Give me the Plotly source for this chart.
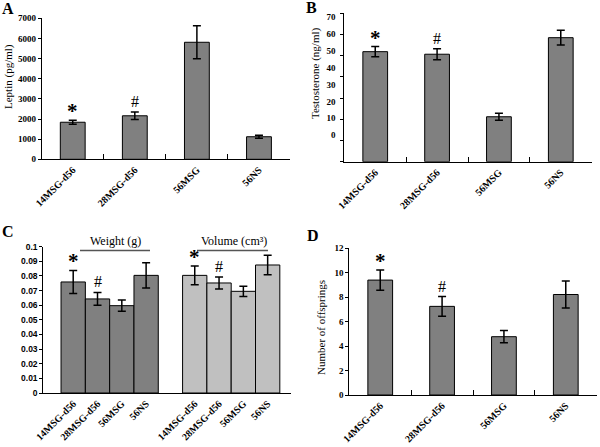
import plotly.graph_objects as go

# ---------------- data ----------------
groups = ["14MSG-d56", "28MSG-d56", "56MSG", "56NS"]
marks = ["*", "#", "", ""]

leptin = [1840, 2160, 5810, 1120]
leptin_err = [100, 190, 820, 70]

testosterone = [51.9, 50.7, 21.2, 58.5]
testosterone_err = [2.4, 2.6, 1.7, 3.5]
testosterone_tick_labels = [0, 10, 20, 30, 40, 50, 60, 70]

weight = [0.0759, 0.0643, 0.0597, 0.0804]
weight_err = [0.0079, 0.0044, 0.0038, 0.0087]
volume = [0.0804, 0.0752, 0.0695, 0.0875]
volume_err = [0.0064, 0.0041, 0.0035, 0.0066]
c_titles = ["Weight (g)", "Volume (cm³)"]
c_ticks = [0, 0.01, 0.02, 0.03, 0.04, 0.05, 0.06, 0.07, 0.08, 0.09, 0.1]

offspring = [9.4, 7.25, 4.77, 8.22]
offspring_err = [0.83, 0.8, 0.5, 1.1]

# ---------------- helpers ----------------
W, H = 600, 447
SERIF = "Liberation Serif, Times New Roman, serif"
SANS = "Liberation Sans, Arial, sans-serif"
DARK = "#808080"
LIGHT = "#c0c0c0"


def xdom(a, b):
    return [a / W, b / W]


def ydom(top, bottom):
    return [1 - bottom / H, 1 - top / H]


err_style = dict(type="data", color="black", thickness=1.5, width=4)

fig = go.Figure()


def add_bar(x, y, err, color, xa, ya, width):
    fig.add_trace(go.Bar(
        x=x, y=y, width=width,
        error_y=dict(array=err, **err_style),
        marker=dict(color=color, line=dict(color="black", width=1)),
        xaxis=xa, yaxis=ya, showlegend=False, hoverinfo="skip",
    ))


add_bar(groups, leptin, leptin_err, DARK, "x", "y", 0.4)
add_bar(groups, testosterone, testosterone_err, DARK, "x2", "y2", 0.4)
add_bar(groups, offspring, offspring_err, DARK, "x4", "y4", 0.4)

w_ids = ["W " + g for g in groups]
v_ids = ["V " + g for g in groups]
c_order = w_ids + ["gap"] + v_ids
add_bar(w_ids, weight, weight_err, DARK, "x3", "y3", 1)
add_bar(v_ids, volume, volume_err, LIGHT, "x3", "y3", 1)
# keep the empty slot between the two groups
fig.add_trace(go.Scatter(x=["gap"], y=[None], xaxis="x3", yaxis="y3",
                         showlegend=False, hoverinfo="skip", mode="markers"))
# carrier for the testosterone label axis
fig.add_trace(go.Scatter(x=[groups[0]], y=[None], xaxis="x2", yaxis="y5",
                         showlegend=False, hoverinfo="skip", mode="markers"))

XFONT = dict(family=SERIF, size=10, color="black", weight="bold")
YFONT = dict(family=SERIF, size=9, color="black", weight="bold")
xcat = dict(type="category", range=[-0.5, 3.5], showline=True, linecolor="black",
            linewidth=1, ticks="inside", tickson="boundaries", ticklen=5,
            tickcolor="black", tickangle=-45, showgrid=False, zeroline=False,
            automargin=False, tickfont=XFONT)
ybase = dict(showline=True, linecolor="black", linewidth=1, ticks="outside",
             ticklen=3, tickcolor="black", showgrid=False, zeroline=False,
             automargin=False)

fig.update_layout(
    template="none",
    width=W, height=H, margin=dict(l=0, r=0, t=0, b=0, autoexpand=False),
    paper_bgcolor="white", plot_bgcolor="white", showlegend=False,
    font=dict(family=SERIF, color="black"),
    xaxis=dict(domain=xdom(41.7, 290), anchor="y", **xcat),
    yaxis=dict(domain=ydom(18.3, 159.3), anchor="x", range=[0, 7000], dtick=1000,
               tickfont=YFONT, **ybase),
    xaxis2=dict(domain=xdom(344.3, 591.7), anchor="y2", **xcat),
    yaxis2=dict(domain=ydom(13.3, 161.7), anchor="x2", range=[0, 70], dtick=10,
                showticklabels=False, **ybase),
    yaxis5=dict(overlaying="y2", anchor="x2", side="left", range=[-15.9, 72.4],
                tickvals=testosterone_tick_labels,
                ticktext=[str(v) for v in testosterone_tick_labels],
                showline=False, showgrid=False, zeroline=False, automargin=False,
                ticks="outside", ticklen=6, tickcolor="rgba(0,0,0,0)",
                tickfont=YFONT),
    xaxis3=dict(domain=xdom(43.3, 291), anchor="y3", type="category",
                categoryorder="array", categoryarray=c_order, range=[-1.23, 8.96],
                tickvals=w_ids + v_ids, ticktext=groups + groups, tickangle=-45,
                showline=True, linecolor="black", linewidth=1, ticks="",
                showgrid=False, zeroline=False, automargin=False, tickfont=XFONT),
    yaxis3=dict(domain=ydom(246.7, 393), anchor="x3", range=[0, 0.1],
                tickvals=c_ticks, ticktext=[f"{v:g}" for v in c_ticks],
                tickfont=dict(family=SANS, size=8.5, color="black", weight="bold"),
                **ybase),
    xaxis4=dict(domain=xdom(349.3, 596.7), anchor="y4", **xcat),
    yaxis4=dict(domain=ydom(248.3, 395), anchor="x4", range=[0, 12], dtick=2,
                tickfont=YFONT, **ybase),
)

ann = []
# panel letters
for letter, px, py in [("A", 0, -2), ("B", 304, -3), ("C", 0, 221), ("D", 305, 225)]:
    ann.append(dict(text=letter, x=px / W, y=1 - py / H, xref="paper", yref="paper",
                    xanchor="left", yanchor="top", showarrow=False,
                    font=dict(family=SERIF, size=16, color="black", weight="bold")))

# y axis titles
for title, px, py in [("Leptin (pg/ml)", 9, 77), ("Testosterone (ng/ml)", 315, 73),
                      ("Number of offsprings", 321, 328)]:
    ann.append(dict(text=title, x=px / W, y=1 - py / H, xref="paper", yref="paper",
                    xanchor="center", yanchor="middle", textangle=-90, showarrow=False,
                    font=dict(family=SERIF, size=11, color="black")))


def add_marks(xs, vals, errs, xa, ya):
    for m, x, v, e in zip(marks, xs, vals, errs):
        if not m:
            continue
        ann.append(dict(text=m, x=x, y=v + e, xref=xa, yref=ya, xanchor="center",
                        yanchor="bottom", showarrow=False,
                        yshift=-5 if m == "*" else 0,
                        font=dict(family=SERIF, size=21 if m == "*" else 16,
                                  color="black",
                                  weight="bold" if m == "*" else "normal")))


add_marks(groups, leptin, leptin_err, "x", "y")
add_marks(groups, testosterone, testosterone_err, "x2", "y2")
add_marks(w_ids, weight, weight_err, "x3", "y3")
add_marks(v_ids, volume, volume_err, "x3", "y3")
add_marks(groups, offspring, offspring_err, "x4", "y4")

# group titles in panel C with underline
for title, cx, x0, x1 in [(c_titles[0], 115, 80, 150), (c_titles[1], 234, 197, 268)]:
    ann.append(dict(text=title, x=cx / W, y=1 - 250 / H, xref="paper", yref="paper",
                    xanchor="center", yanchor="bottom", showarrow=False,
                    font=dict(family=SERIF, size=12, color="black")))
    fig.add_shape(type="line", xref="paper", yref="paper", x0=x0 / W, x1=x1 / W,
                  y0=1 - 250.5 / H, y1=1 - 250.5 / H,
                  line=dict(color="#555555", width=1.5))

fig.update_layout(annotations=ann)
fig.write_html("out.html", config={"displayModeBar": False},
               post_script="document.body.style.margin='0';"
                           "document.body.style.overflow='hidden';")
